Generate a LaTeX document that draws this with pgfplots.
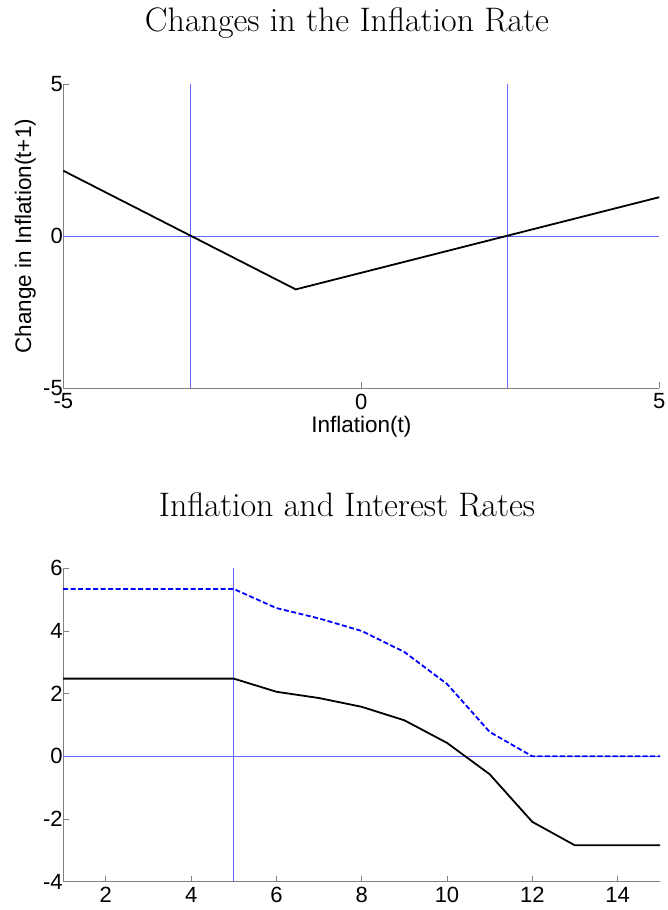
\documentclass[border=0pt]{standalone}
\usepackage{fontspec}
\usepackage{pgfplots}
\pgfplotsset{compat=1.18}
\newfontfamily\arial{Liberation Sans}
\definecolor{axgray}{RGB}{128,128,128}
\definecolor{refblue}{RGB}{100,100,255}
\begin{document}
\begin{tikzpicture}
\useasboundingbox (0pt,0pt) rectangle (667pt,910pt);
\pgfplotsset{mystyle/.style={scale only axis, axis lines=left,
  axis line style={-,draw=axgray, line width=0.8pt},
  every tick/.style={draw=axgray, line width=0.8pt},
  tick align=inside, major tick length=6pt,
  ticklabel style={font=\arial\fontsize{22}{26}\selectfont, text=black},
  xticklabel style={yshift=-2pt},
  yticklabel style={xshift=3pt},
  label style={font=\arial\fontsize{22.5}{27}\selectfont},
  clip=false}}
\node[anchor=base, font=\fontsize{34}{40}\selectfont] at (347pt,878pt) {Changes in the Inflation Rate};
\node[anchor=base, font=\fontsize{34}{40}\selectfont] at (347pt,393pt) {Inflation and Interest Rates};
\begin{axis}[mystyle, at={(63.3pt,521.7pt)}, anchor=south west, width=596pt, height=304.3pt,
  xmin=-5,xmax=5,ymin=-5,ymax=5,
  xtick={-5,0,5}, xticklabels={-5,0,5}, ytick={-5,0,5}, yticklabels={-5,0,5},
  xlabel={Inflation(t)}, ylabel={Change in Inflation(t+1)},
  xlabel style={at={(axis description cs:0.5,-0.146)}, anchor=base},
  ylabel style={at={(axis description cs:-0.054,0.5)}, anchor=base}]
\addplot[refblue, line width=0.8pt] coordinates {(-2.87,-5) (-2.87,5)};
\addplot[refblue, line width=0.8pt] coordinates {(2.45,-5) (2.45,5)};
\addplot[refblue, line width=0.8pt] coordinates {(-5,0) (5,0)};
\addplot[black, line width=1.8pt] coordinates {(-5,2.15) (-1.1,-1.75) (5,1.28)};
\end{axis}
\begin{axis}[mystyle, at={(63.2pt,28.3pt)}, anchor=south west, width=597pt, height=313.4pt,
  xmin=1,xmax=15,ymin=-4,ymax=6,
  xtick={2,4,6,8,10,12,14}, xticklabels={2,4,6,8,10,12,14},
  ytick={-4,-2,0,2,4,6}, yticklabels={-4,-2,0,2,4,6}]
\addplot[refblue, line width=0.8pt] coordinates {(5,-4) (5,6)};
\addplot[refblue, line width=0.8pt] coordinates {(1,0) (15,0)};
\addplot[blue, line width=1.8pt, dash pattern=on 5pt off 2.5pt] coordinates {
(1,5.34) (2,5.34) (3,5.34) (4,5.34) (5,5.34) (6,4.73) (7,4.40) (8,4.00)
(9,3.33) (10,2.31) (11,0.78) (12,0) (13,0) (14,0) (15,0)};
\addplot[black, line width=1.8pt] coordinates {
(1,2.48) (2,2.48) (3,2.48) (4,2.48) (5,2.48) (6,2.06) (7,1.86) (8,1.58)
(9,1.15) (10,0.43) (11,-0.57) (12,-2.09) (13,-2.84) (14,-2.84) (15,-2.84)};
\end{axis}
\end{tikzpicture}
\end{document}
